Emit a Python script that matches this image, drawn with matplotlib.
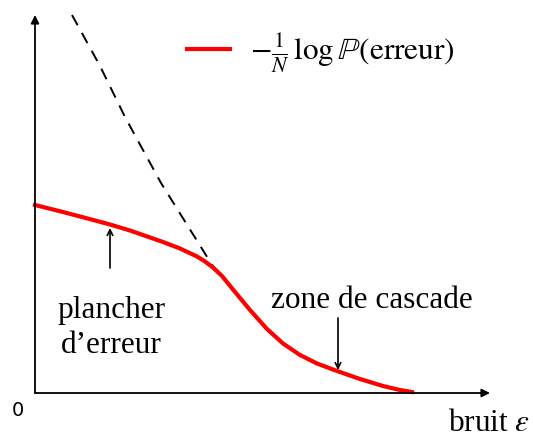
import matplotlib
matplotlib.use("Agg")
import matplotlib.pyplot as plt

# Red curve: -1/N log P(erreur) vs bruit
eps = [0, .28, .62, .75, .95, 1.28, 1.45, 1.62, 1.70, 1.78, 1.87, 1.98, 2.15, 2.32, 2.48, 2.65,
       2.82, 3.02, 3.25, 3.48, 3.65, 3.77]
rate = [1.88, 1.81, 1.72, 1.685, 1.625, 1.51, 1.445, 1.365, 1.315, 1.255, 1.17, 1.035, 0.83, 0.64,
        0.495, 0.38, 0.295, 0.22, 0.14, 0.07, 0.03, 0.01]

# Dashed asymptote
eps_dash = [0.37, 0.65, 0.90, 1.26, 1.79]
rate_dash = [3.78, 3.27, 2.76, 2.10, 1.25]

plt.rcParams['mathtext.fontset'] = 'stix'
serif = ['Liberation Serif', 'DejaVu Serif']
FS = 22.5

fig = plt.figure(figsize=(5.33, 4.37), dpi=100)
ax = fig.add_axes([0, 0, 1, 1])
ax.set_xlim(-0.35, 4.98)
ax.set_ylim(-0.44, 3.93)
ax.axis('off')

# axes with arrows
ax.annotate('', xy=(4.55, 0), xytext=(0, 0),
            arrowprops=dict(arrowstyle='-|>', lw=1.3, color='black', mutation_scale=12, shrinkA=0, shrinkB=0))
ax.annotate('', xy=(0, 3.78), xytext=(0, 0),
            arrowprops=dict(arrowstyle='-|>', lw=1.3, color='black', mutation_scale=12, shrinkA=0, shrinkB=0))

ax.plot(eps_dash, rate_dash, color='black', ls=(0, (6, 4.5)), lw=1.4)
ax.plot(eps, rate, color='#ff0000', lw=3, solid_joinstyle='round',
        label=r'$-\frac{1}{N}\,\log\mathbb{P}(\mathrm{erreur})$')

ax.legend(loc='center left', bbox_to_anchor=(0.351, 0.879), frameon=False,
          prop={'family': serif, 'size': FS}, handlelength=1.38, handletextpad=0.64,
          borderpad=0, borderaxespad=0)

# annotations
ax.annotate('', xy=(0.75, 1.65), xytext=(0.75, 1.25),
            arrowprops=dict(arrowstyle='->', lw=1.2, color='black', shrinkA=0, shrinkB=0))
ax.text(0.76, 0.75, "plancher", ha='center', va='baseline', family=serif, fontsize=FS)
ax.text(0.76, 0.40, "d\u2019erreur", ha='center', va='baseline', family=serif, fontsize=FS)

ax.annotate('', xy=(3.03, 0.23), xytext=(3.03, 0.75),
            arrowprops=dict(arrowstyle='->', lw=1.2, color='black', shrinkA=0, shrinkB=0))
ax.text(3.37, 0.85, "zone de cascade", ha='center', va='baseline', family=serif, fontsize=FS)

ax.text(-0.175, -0.17, "0", ha='center', va='center', family='DejaVu Sans', fontsize=14)
ax.text(4.95, -0.38, r"bruit $\epsilon$", ha='right', va='baseline', family=serif, fontsize=FS)

fig.savefig('out.png', dpi=100)
